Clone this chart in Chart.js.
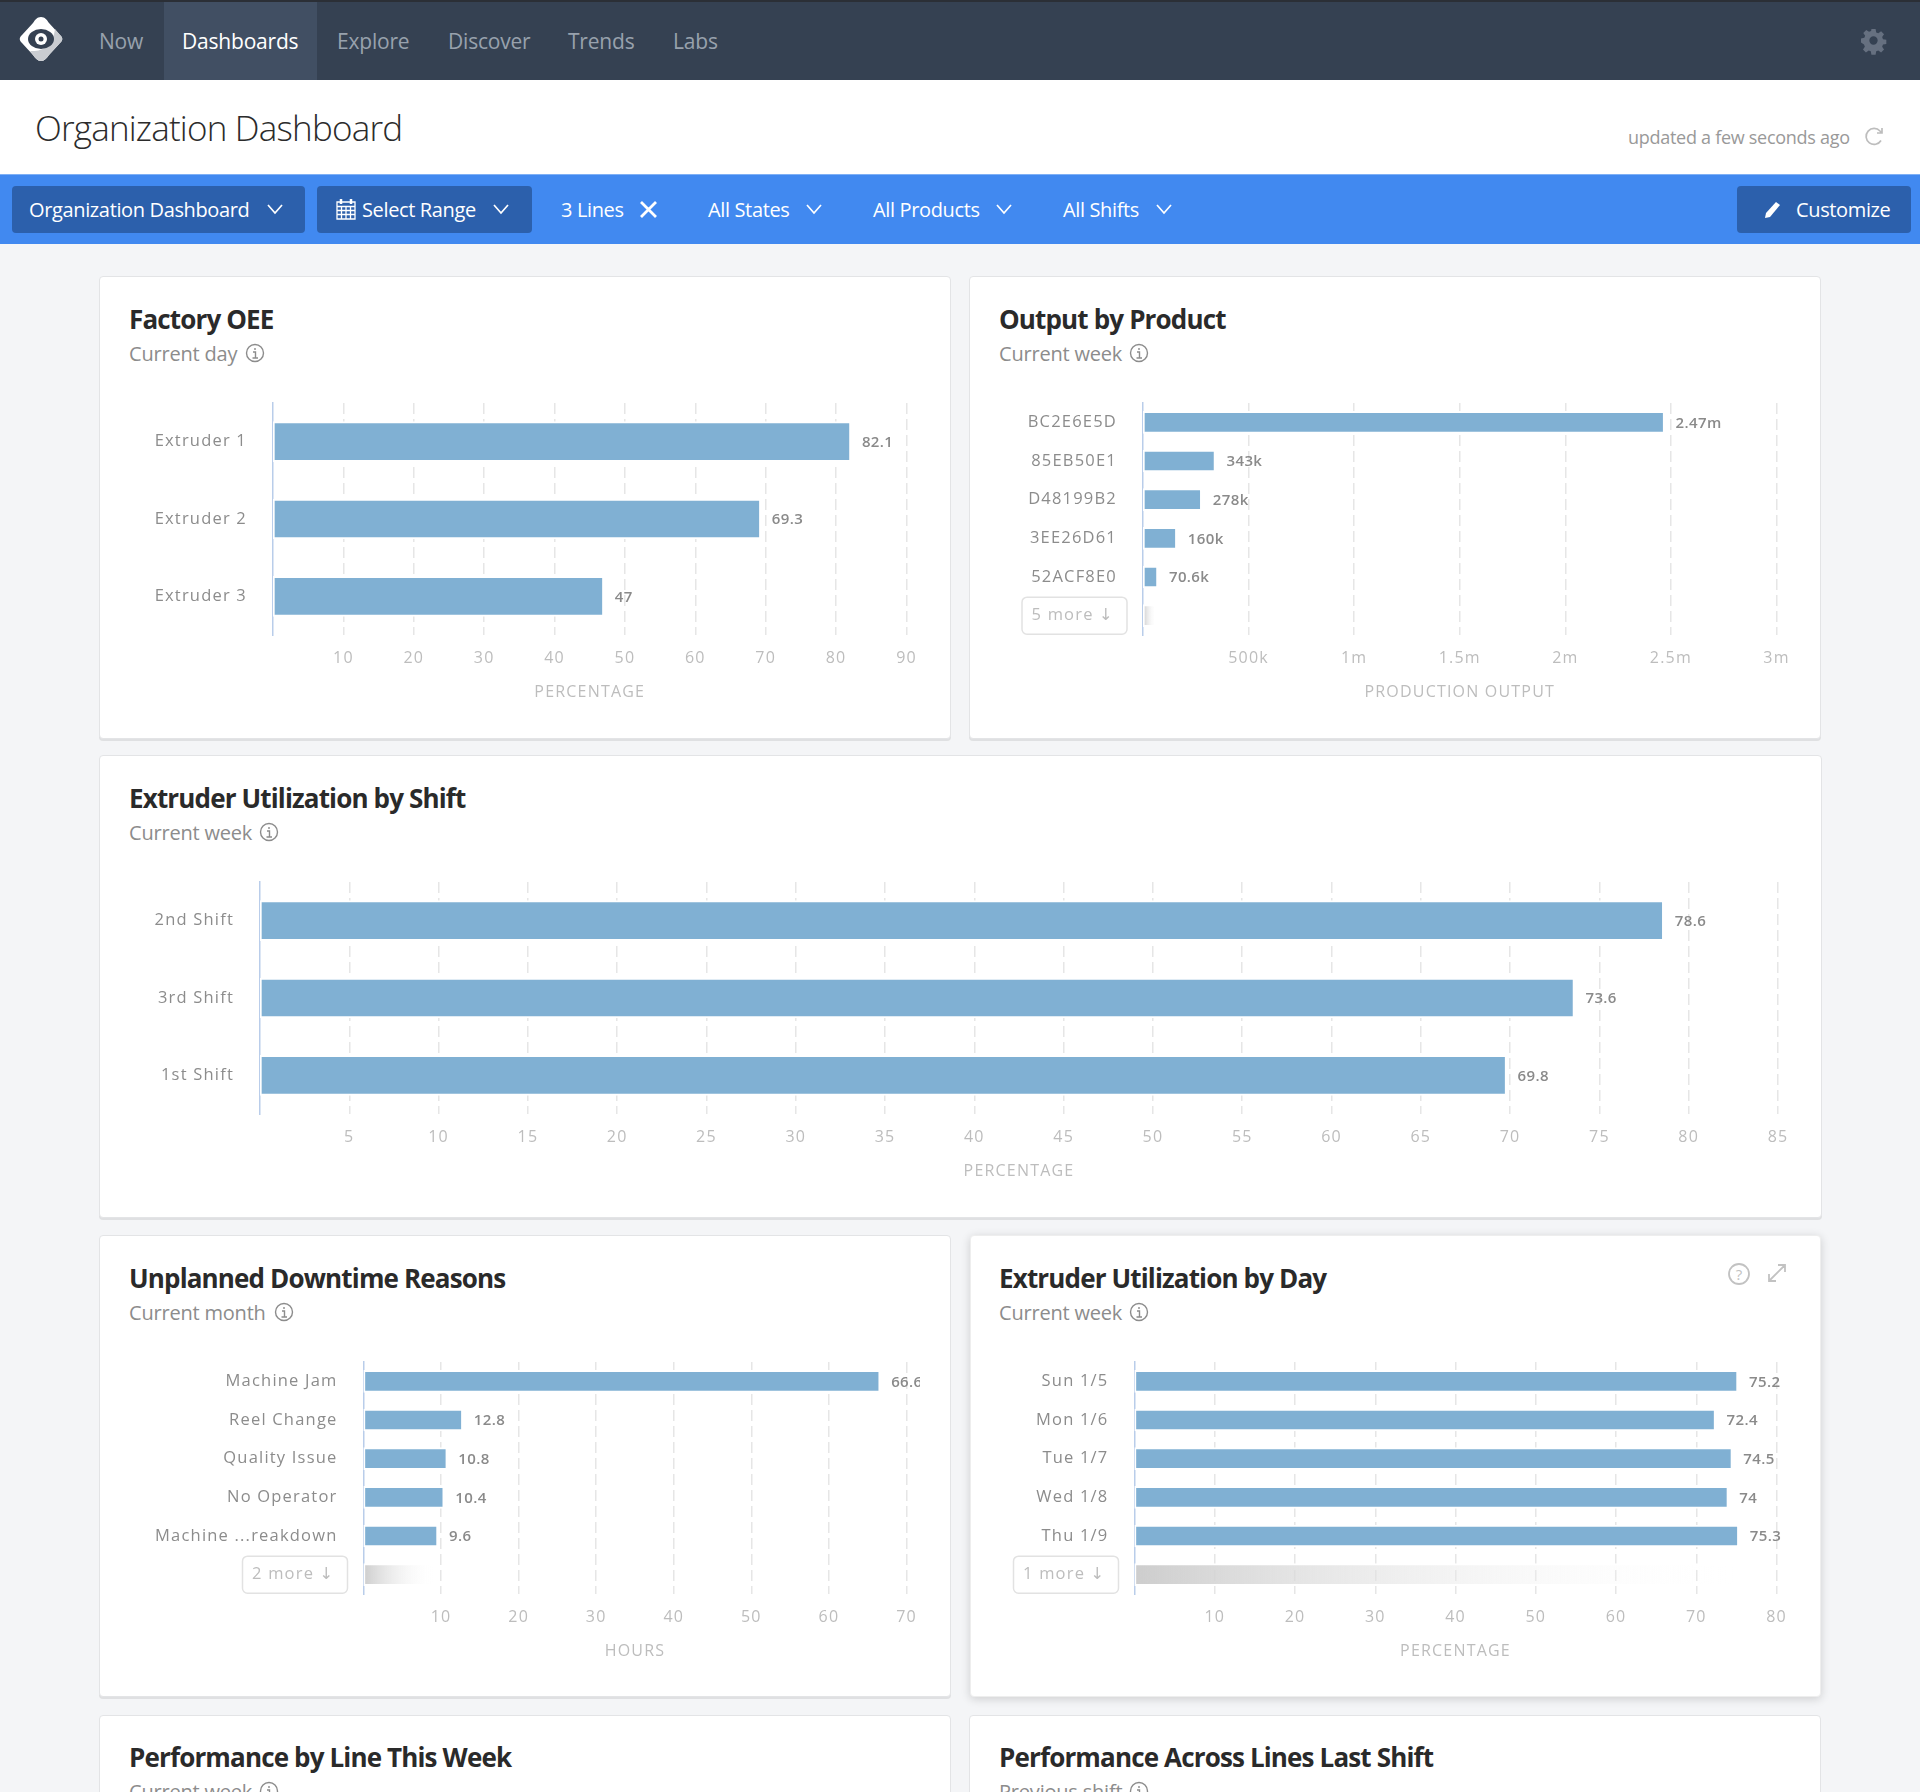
<!DOCTYPE html>
<html>
<head>
<meta charset="utf-8">
<title>Organization Dashboard</title>
<script src="https://cdn.jsdelivr.net/npm/chart.js@4"></script>
<style>
html, body { margin: 0; padding: 0; }
body { width: 1920px; height: 1792px; position: relative; overflow: hidden; background: #f4f5f7; font-family: 'Open Sans', sans-serif; }
.t { position: absolute; white-space: nowrap; transform: translateY(-50%); }
.band { position: absolute; left: 0; width: 1920px; }
.btn { position: absolute; top: 186px; height: 47px; background: #2c60ac; border-radius: 4px; }
.nav { font-size: 21px; color: #98a1ad; top: 41px; letter-spacing: -0.2px; }
.flt { font-size: 20px; color: #fff; top: 209px; letter-spacing: -0.36px; }
.card { position: absolute; background: #fff; border: 1px solid #e3e4e6; border-radius: 4px; box-sizing: border-box; box-shadow: 0 2px 0 #dfe0e2; }
.card.hover { border-color: #eee; box-shadow: 0 2px 10px rgba(0,0,0,.16); }
.ttl { font-size: 26px; font-weight: 700; color: #2a2a2a; letter-spacing: -0.85px; }
.sub { font-size: 20px; color: #8c8c8c; letter-spacing: -0.2px; }
canvas { position: absolute; }
svg { position: absolute; overflow: visible; }
</style>
</head>
<body>
<div class="band" style="top:0;height:80px;background:#354152;border-top:2px solid #2b2f36;box-sizing:border-box"></div>
<div style="position:absolute;left:164px;top:2px;width:153px;height:78px;background:#414f63"></div>
<svg style="left:18px;top:16px" width="46" height="46" viewBox="0 0 46 46">
  <path d="M23 1 C27 1 29 4 31 7 L42 19 C45 22 45 24 42 27 L31 39 C28 43 26 45 23 45 C20 45 18 43 15 39 L4 27 C1 24 1 22 4 19 L15 7 C17 4 19 1 23 1Z" fill="#fff"/>
  <path d="M23 45 C20 45 18 43 15 39 L12 35 C24 36 35 30 37 13 L42 19 C45 22 45 24 42 27 L31 39 C28 43 26 45 23 45Z" fill="#c9ccd1"/>
  <ellipse cx="23" cy="23" rx="13" ry="10" fill="#354152"/>
  <circle cx="23" cy="23" r="6" fill="#fff"/>
  <circle cx="23" cy="23" r="2.5" fill="#354152"/>
</svg>
<span class="t nav" style="left:99px">Now</span>
<span class="t nav" style="left:182px;color:#fff">Dashboards</span>
<span class="t nav" style="left:337px">Explore</span>
<span class="t nav" style="left:448px">Discover</span>
<span class="t nav" style="left:568px">Trends</span>
<span class="t nav" style="left:673px">Labs</span>
<svg style="left:1861px;top:28px" width="25" height="25" viewBox="0 0 24 24"><path fill="#667080" d="M10 1h4l.6 3.2 2 .8 2.7-1.8 2.8 2.8-1.8 2.7.8 2 3.2.6v4l-3.2.6-.8 2 1.8 2.7-2.8 2.8-2.7-1.8-2 .8-.6 3.2h-4l-.6-3.2-2-.8-2.7 1.8-2.8-2.8 1.8-2.7-.8-2L0 14v-4l3.2-.6.8-2L2.2 4.700 5 1.900l2.700 1.800 2-.8zM12 8a4 4 0 1 0 0 8 4 4 0 0 0 0-8z"/></svg>

<div class="band" style="top:80px;height:94px;background:#fff"></div>
<span class="t" style="left:35px;top:127px;font-size:35px;font-weight:300;color:#2b2b2b;letter-spacing:-0.8px">Organization Dashboard</span>
<span class="t" style="left:1628px;top:137px;font-size:18px;color:#999;letter-spacing:-0.28px">updated a few seconds ago</span>
<svg style="left:1865px;top:127px" width="20" height="20" viewBox="0 0 20 20"><path d="M16 13.500 A8 8 0 1 1 15 4 L17 6 M17 1 V6 H12" fill="none" stroke="#bdbdbd" stroke-width="1.700"/></svg>

<div class="band" style="top:174px;height:70px;background:#4189f0;border-top:1px solid #7fb0f5;box-sizing:border-box"></div>
<div class="btn" style="left:12px;width:293px"></div>
<div class="btn" style="left:317px;width:215px"></div>
<div class="btn" style="left:1737px;width:174px"></div>
<span class="t flt" style="left:29px">Organization Dashboard</span>
<span class="t flt" style="left:362px">Select Range</span>
<span class="t flt" style="left:561px">3 Lines</span>
<span class="t flt" style="left:708px">All States</span>
<span class="t flt" style="left:873px">All Products</span>
<span class="t flt" style="left:1063px">All Shifts</span>
<span class="t flt" style="left:1796px">Customize</span>
<svg style="left:336px;top:198px" width="20" height="22" viewBox="0 0 20 22"><path d="M1 4h18v17H1zM1 8.500h18M1 12.500h18M1 16.500h18M5.500 8.500v12.500M10 8.500v12.500M14.500 8.500v12.500" fill="none" stroke="#fff" stroke-width="1.300"/><path d="M5 1v5M15 1v5" stroke="#fff" stroke-width="2.500"/></svg>
<svg style="left:640px;top:201px" width="17" height="17" viewBox="0 0 17 17"><path d="M1 1 16 16M16 1 1 16" stroke="#fff" stroke-width="2.800"/></svg>
<svg style="left:1764px;top:201px" width="17" height="18" viewBox="0 0 17 18"><path d="M12 1 16 4 6 16 1 17 2 12Z" fill="#fff"/></svg>
<svg style="left:0;top:0" width="1" height="1"><g fill="none" stroke="#fff" stroke-width="1.700">
  <path d="M268 205 275 213 282 205"/><path d="M494 205 501 213 508 205"/><path d="M807 205 814 213 821 205"/><path d="M997 205 1004 213 1011 205"/><path d="M1157 205 1164 213 1171 205"/></g></svg>

<div class="card" style="left:99px;top:276px;width:852px;height:463px"></div>
<div class="card" style="left:969px;top:276px;width:852px;height:463px"></div>
<div class="card" style="left:99px;top:755px;width:1723px;height:463px"></div>
<div class="card" style="left:99px;top:1235px;width:852px;height:462px"></div>
<div class="card hover" style="left:970px;top:1235px;width:851px;height:462px"></div>
<div class="card" style="left:99px;top:1715px;width:852px;height:200px"></div>
<div class="card" style="left:969px;top:1715px;width:852px;height:200px"></div>

<span class="t ttl" style="left:129px;top:319px">Factory OEE</span>
<span class="t sub" style="left:129px;top:353px">Current day</span>
<span class="t ttl" style="left:999px;top:319px">Output by Product</span>
<span class="t sub" style="left:999px;top:353px">Current week</span>
<span class="t ttl" style="left:129px;top:798px">Extruder Utilization by Shift</span>
<span class="t sub" style="left:129px;top:832px">Current week</span>
<span class="t ttl" style="left:129px;top:1278px">Unplanned Downtime Reasons</span>
<span class="t sub" style="left:129px;top:1312px">Current month</span>
<span class="t ttl" style="left:999px;top:1278px">Extruder Utilization by Day</span>
<span class="t sub" style="left:999px;top:1312px">Current week</span>
<span class="t ttl" style="left:129px;top:1757px">Performance by Line This Week</span>
<span class="t sub" style="left:129px;top:1791px">Current week</span>
<span class="t ttl" style="left:999px;top:1757px">Performance Across Lines Last Shift</span>
<span class="t sub" style="left:999px;top:1791px">Previous shift</span>
<div id="infos"></div>
<svg style="left:1727px;top:1262px" width="24" height="24" viewBox="0 0 24 24"><circle cx="12" cy="12" r="10" fill="none" stroke="#c2c2c2" stroke-width="1.800"/><text x="12" y="17.500" text-anchor="middle" font-size="15" fill="#c2c2c2" font-family="Open Sans">?</text></svg>
<svg style="left:1767px;top:1263px" width="20" height="20" viewBox="0 0 20 20"><path d="M2 18 18 2M11 2h7v7M2 11v7h7" fill="none" stroke="#c2c2c2" stroke-width="1.800"/></svg>

<canvas id="oeeChart" style="left:130px;top:390px"></canvas>
<canvas id="outputChart" style="left:1000px;top:390px"></canvas>
<canvas id="shiftChart" style="left:130px;top:869px"></canvas>
<canvas id="downtimeChart" style="left:130px;top:1349px"></canvas>
<canvas id="dayChart" style="left:1000px;top:1349px"></canvas>

<script>
// Chart data
const oeeCategories = ['Extruder 1', 'Extruder 2', 'Extruder 3'];
const oeeValues = [82.1, 69.3, 47];
const oeeTicks = [10, 20, 30, 40, 50, 60, 70, 80, 90];

const outputCategories = ['BC2E6E5D', '85EB50E1', 'D48199B2', '3EE26D61', '52ACF8E0', '5 more ↓'];
const outputValues = [2470000, 343000, 278000, 160000, 70600, 62000];
const outputTicks = [500000, 1000000, 1500000, 2000000, 2500000, 3000000];

const shiftCategories = ['2nd Shift', '3rd Shift', '1st Shift'];
const shiftValues = [78.6, 73.6, 69.8];
const shiftTicks = [5, 10, 15, 20, 25, 30, 35, 40, 45, 50, 55, 60, 65, 70, 75, 80, 85];

const downtimeCategories = ['Machine Jam', 'Reel Change', 'Quality Issue', 'No Operator', 'Machine ...reakdown', '2 more ↓'];
const downtimeValues = [66.6, 12.8, 10.8, 10.4, 9.6, 9.2];
const downtimeTicks = [10, 20, 30, 40, 50, 60, 70];

const dayCategories = ['Sun 1/5', 'Mon 1/6', 'Tue 1/7', 'Wed 1/8', 'Thu 1/9', '1 more ↓'];
const dayValues = [75.2, 72.4, 74.5, 74, 75.3, 75];
const dayTicks = [10, 20, 30, 40, 50, 60, 70, 80];

const BAR_BLUE = '#80b0d3';

function formatValue(v) {
    if (v >= 1000000) return (v / 1000000) + 'm';
    if (v >= 1000) return (v / 1000) + 'k';
    return '' + v;
}

// Info icons next to the card subtitles
const infoSpots = [[255, 353], [1139, 353], [269, 832], [284, 1312], [1139, 1312], [269, 1791], [1139, 1791]];
document.getElementById('infos').innerHTML = infoSpots.map(p =>
    `<svg style="left:${p[0] - 10}px;top:${p[1] - 10}px" width="20" height="20" viewBox="0 0 20 20">
     <circle cx="10" cy="10" r="8.500" fill="none" stroke="#8c8c8c" stroke-width="1.400"/>
     <path d="M10 5v2M8 9h2.500v6M7.500 15h5.500" fill="none" stroke="#8c8c8c" stroke-width="1.400"/></svg>`).join('');

const isFaded = (chart, i) => chart.options.moreRow && i === chart.data.labels.length - 1;

const dashPlugin = {
    id: 'dashPlugin',
    beforeDraw(chart) {
        chart.ctx.letterSpacing = '1.2px';
    },
    afterDraw(chart) {
        const ctx = chart.ctx;
        const yScale = chart.scales.y;
        // outline of the "N more" button
        if (chart.options.moreRow) {
            const cy = yScale.getPixelForTick(chart.data.labels.length - 1);
            ctx.save();
            ctx.strokeStyle = '#e2e2e2';
            ctx.lineWidth = 1.5;
            ctx.beginPath();
            ctx.roundRect(yScale.right - 121, cy - 18.5, 105, 37, 5);
            ctx.stroke();
            ctx.restore();
        }
        // value labels at the bar ends
        const bars = chart.getDatasetMeta(0).data;
        ctx.save();
        ctx.letterSpacing = '0.4px';
        ctx.font = "600 15px 'Open Sans'";
        ctx.fillStyle = '#8a8a8a';
        ctx.textBaseline = 'middle';
        bars.forEach((bar, i) => {
            if (isFaded(chart, i)) return;
            ctx.fillText(formatValue(chart.data.datasets[0].data[i]), bar.x + 11, bar.y + 1);
        });
        ctx.restore();
    }
};

function drawBarChart(id, size, categories, values, ticks, axisTitle, barSize, moreRow) {
    const canvas = document.getElementById(id);
    canvas.width = size.width;
    canvas.height = 320;
    return new Chart(canvas.getContext('2d'), {
        type: 'bar',
        plugins: [dashPlugin],
        data: {
            labels: categories,
            datasets: [{
                data: values,
                barThickness: barSize,
                borderWidth: 2,
                borderColor: '#fff',
                borderSkipped: false,
                backgroundColor: (c) => {
                    if (!isFaded(c.chart, c.dataIndex) || !c.chart.chartArea) return BAR_BLUE;
                    const x = c.chart.scales.x;
                    const g = c.chart.ctx.createLinearGradient(x.getPixelForValue(0), 0, x.getPixelForValue(values[c.dataIndex]), 0);
                    g.addColorStop(0, '#cdcdcd');
                    g.addColorStop(1, 'rgba(255,255,255,0)');
                    return g;
                }
            }]
        },
        options: {
            indexAxis: 'y',
            responsive: false,
            animation: false,
            moreRow: moreRow,
            layout: { padding: { top: 13, right: size.right, left: 0, bottom: 0 } },
            plugins: { legend: { display: false }, tooltip: { enabled: false } },
            scales: {
                x: {
                    min: 0,
                    max: ticks[ticks.length - 1],
                    afterBuildTicks: (scale) => { scale.ticks = ticks.map(v => ({ value: v })); },
                    afterFit: (scale) => {
                        scale.height = 75;
                        scale.paddingLeft = 0;
                        scale.paddingRight = 0;
                        scale.paddingTop = 0;
                        scale.paddingBottom = 0;
                    },
                    grid: { color: '#e6e6e6', lineWidth: 1.5, drawTicks: false },
                    border: { display: false, dash: [11, 5] },
                    ticks: { color: '#bdbdbd', padding: 13.5, maxRotation: 0, autoSkip: false, font: { size: 16, family: "'Open Sans'" }, callback: (v) => formatValue(v) },
                    title: { display: true, text: axisTitle, color: '#bdbdbd', padding: { top: 0, bottom: 8 }, font: { size: 16, family: "'Open Sans'" } }
                },
                y: {
                    afterFit: (scale) => {
                        scale.width = size.axis;
                        scale.paddingTop = 0;
                        scale.paddingBottom = 0;
                    },
                    grid: { display: false, drawTicks: false },
                    border: { color: '#b9cdea', width: 1.5 },
                    ticks: {
                        padding: 26,
                        autoSkip: false,
                        font: { size: 16.5, family: "'Open Sans', 'DejaVu Sans'" },
                        color: (c) => (moreRow && c.index === categories.length - 1) ? '#bdbdbd' : '#8c8c8c',
                        callback: (v, i) => (moreRow && i === categories.length - 1) ? categories[i] + '\u200a' : categories[i]
                    }
                }
            }
        }
    });
}

document.fonts.ready.then(() => {
    drawBarChart('oeeChart', { width: 790, axis: 143, right: 13.5 }, oeeCategories, oeeValues, oeeTicks, 'PERCENTAGE', 40, false);
    drawBarChart('outputChart', { width: 790, axis: 143, right: 13.5 }, outputCategories, outputValues, outputTicks, 'PRODUCTION OUTPUT', 22, true);
    drawBarChart('shiftChart', { width: 1662, axis: 130, right: 14 }, shiftCategories, shiftValues, shiftTicks, 'PERCENTAGE', 40, false);
    drawBarChart('downtimeChart', { width: 790, axis: 233.5, right: 13.5 }, downtimeCategories, downtimeValues, downtimeTicks, 'HOURS', 22, true);
    drawBarChart('dayChart', { width: 790, axis: 134.5, right: 13.5 }, dayCategories, dayValues, dayTicks, 'PERCENTAGE', 22, true);
});
</script>
</body>
</html>
